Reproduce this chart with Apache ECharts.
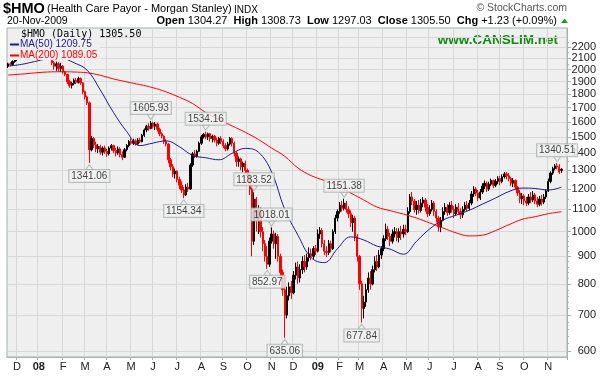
<!DOCTYPE html>
<html lang="en">
<head>
<meta charset="UTF-8">
<title>$HMO daily</title>
<script src="https://cdn.jsdelivr.net/npm/echarts@6/dist/echarts.min.js"></script>
<style>html,body{margin:0;padding:0;background:#fff}</style>
</head>
<body>
<div id="main" style="width:605px;height:378px"></div>
<script>
// two-session bars, [open, close, low, high]
var bars = [
  [2030,2050,2015,2060],[2050,2045,2030,2065],[2045,2070,2035,2080],[2070,2090,2060,2100],[2090,2110,2075,2125],
  [2110,2140,2100,2150],[2140,2125,2110,2160],[2125,2170,2115,2180],[2170,2190,2155,2205],[2190,2160,2145,2210],
  [2160,2200,2150,2215],[2200,2230,2185,2245],[2230,2210,2195,2250],[2210,2180,2165,2225],[2180,2150,2130,2195],
  [2150,2120,2100,2170],[2120,2160,2105,2175],[2160,2130,2110,2180],[2130,2100,2090,2150],[2100,2095,2088,2120],
  [2080,2060,2040,2084],[2060,2030,2000,2075],[2030,2050,1990,2070],[2050,2010,1985,2065],[2010,2030,1980,2060],
  [2030,1980,1965,2040],[1980,1960,1945,1990],[1960,1900,1880,1965],[1900,1870,1850,1915],[1870,1885,1845,1900],
  [1885,1910,1870,1925],[1910,1895,1880,1930],[1895,1925,1885,1940],[1925,1890,1875,1935],[1890,1820,1800,1895],
  [1820,1780,1760,1830],[1780,1735,1720,1790],[1735,1420,1341.06,1745],[1420,1490,1410,1505],[1490,1450,1430,1500],
  [1450,1425,1405,1470],[1425,1440,1400,1455],[1440,1405,1390,1450],[1405,1430,1385,1440],[1430,1410,1395,1445],
  [1410,1395,1378,1425],[1395,1430,1385,1440],[1430,1445,1415,1455],[1445,1415,1400,1450],[1415,1400,1380,1430],
  [1400,1425,1390,1440],[1425,1390,1375,1435],[1390,1375,1358,1410],[1375,1420,1370,1430],[1420,1445,1410,1455],
  [1445,1470,1435,1480],[1470,1460,1450,1490],[1460,1475,1448,1488],[1475,1455,1445,1485],[1455,1480,1450,1492],
  [1480,1470,1460,1495],[1470,1510,1465,1520],[1510,1545,1500,1555],[1545,1570,1530,1580],[1570,1555,1540,1590],
  [1555,1590,1550,1605.93],[1590,1570,1555,1600],[1570,1585,1545,1598],[1585,1550,1535,1595],[1550,1520,1505,1560],
  [1520,1505,1490,1530],[1505,1470,1455,1510],[1470,1455,1440,1485],[1455,1360,1340,1460],[1360,1320,1300,1370],
  [1320,1280,1262,1335],[1280,1295,1255,1310],[1295,1250,1235,1300],[1250,1220,1200,1265],[1220,1195,1180,1240],
  [1195,1170,1154.34,1210],[1170,1210,1165,1225],[1210,1200,1185,1232],[1200,1330,1195,1340],[1330,1395,1320,1405],
  [1395,1380,1370,1418],[1380,1410,1372,1420],[1410,1460,1405,1470],[1460,1500,1450,1512],[1500,1515,1490,1525],
  [1515,1500,1485,1534.16],[1500,1520,1480,1528],[1520,1490,1470,1525],[1490,1505,1465,1515],[1505,1480,1465,1512],
  [1480,1460,1440,1495],[1460,1490,1450,1500],[1490,1470,1455,1505],[1470,1445,1430,1485],[1445,1425,1410,1460],
  [1425,1455,1415,1468],[1455,1490,1445,1500],[1490,1460,1440,1498],[1460,1400,1380,1470],[1400,1350,1320,1410],
  [1350,1365,1320,1380],[1365,1320,1300,1372],[1320,1340,1290,1350],[1340,1300,1280,1355],[1300,1270,1250,1310],
  [1270,1200,1170,1283],[1200,960,900,1210],[960,1150,945,1183.52],[1150,1050,1000,1160],[1050,1100,990,1120],
  [1100,1000,975,1110],[1000,950,920,1020],[950,900,880,965],[900,870,852.97,940],[870,960,860,975],
  [960,990,950,1018.01],[990,950,930,1005],[950,980,890,995],[980,900,880,990],[900,840,825,910],
  [840,780,760,850],[780,700,635.06,790],[700,760,690,790],[760,790,745,805],[790,770,750,810],
  [770,830,765,845],[830,860,815,876],[860,820,800,880],[820,850,805,870],[850,880,835,900],
  [880,860,840,905],[860,895,850,910],[895,910,880,935],[910,900,885,930],[900,930,890,940],
  [930,920,905,945],[920,990,915,1010],[990,1005,970,1020],[1005,950,935,1015],[950,920,905,965],
  [920,915,897,940],[915,950,905,965],[950,930,915,962],[930,1000,925,1010],[1000,1060,990,1075],
  [1060,1090,1045,1100],[1090,1120,1080,1135],[1120,1105,1090,1140],[1105,1130,1095,1151.38],[1130,1100,1085,1140],
  [1100,1080,1060,1115],[1080,1040,1020,1095],[1040,1060,1000,1075],[1060,980,960,1070],[980,900,880,990],
  [900,800,780,905],[800,720,677.84,810],[720,740,690,760],[740,780,725,800],[780,820,770,840],
  [820,800,780,845],[800,850,795,865],[850,880,840,900],[880,860,845,905],[860,905,855,925],
  [905,930,890,940],[930,970,920,985],[970,1010,960,1035],[1010,980,965,1025],[980,960,940,995],
  [960,990,950,1010],[990,1000,975,1020],[1000,975,960,1015],[975,1000,955,1015],[1000,990,965,1025],
  [990,1010,975,1030],[1010,1000,985,1030],[1000,1090,995,1110],[1090,1160,1080,1175],[1160,1140,1120,1185],
  [1140,1100,1085,1150],[1100,1120,1075,1140],[1120,1095,1080,1145],[1095,1130,1085,1150],[1130,1145,1110,1160],
  [1145,1110,1090,1155],[1110,1080,1065,1125],[1080,1100,1070,1120],[1100,1130,1090,1145],[1130,1090,1070,1140],
  [1090,1060,1040,1100],[1060,1020,1000,1070],[1020,1050,998,1065],[1050,1090,1045,1110],[1090,1110,1075,1130],
  [1110,1085,1070,1125],[1085,1120,1075,1135],[1120,1100,1085,1140],[1100,1080,1060,1115],[1080,1110,1070,1125],
  [1110,1090,1075,1130],[1090,1075,1055,1105],[1075,1100,1060,1115],[1100,1120,1090,1135],[1120,1105,1090,1140],
  [1105,1130,1095,1145],[1130,1175,1120,1190],[1175,1200,1160,1215],[1200,1180,1165,1210],[1180,1155,1140,1195],
  [1155,1185,1145,1200],[1185,1215,1175,1230],[1215,1230,1200,1245],[1230,1200,1185,1240],[1200,1225,1190,1238],
  [1225,1245,1215,1255],[1245,1220,1205,1250],[1220,1240,1210,1252],[1240,1255,1225,1268],[1255,1240,1220,1270],
  [1240,1265,1230,1278],[1265,1280,1255,1290],[1280,1270,1250,1292],[1270,1255,1240,1285],[1255,1230,1215,1265],
  [1230,1245,1210,1258],[1245,1210,1195,1250],[1210,1180,1165,1215],[1180,1150,1130,1195],[1150,1165,1125,1180],
  [1165,1140,1120,1175],[1140,1130,1115,1160],[1130,1160,1120,1175],[1160,1145,1130,1185],[1145,1170,1135,1190],
  [1170,1140,1125,1180],[1140,1125,1110,1160],[1125,1150,1115,1165],[1150,1135,1118,1170],[1135,1160,1125,1175],
  [1160,1190,1150,1200],[1190,1240,1185,1255],[1240,1285,1230,1295],[1285,1310,1275,1320],[1310,1325,1300,1335],
  [1325,1320,1305,1340.51],[1320,1290,1280,1335],[1300,1305.5,1285,1312]
];

// moving averages, one reading every 6 bars
var maStep = 6;
var ma50 = [2030,2045,2070,2095,2100,2060,1995,1833,1665,1535,1445,1461,1475,1438,1386,1372,1360,1398,1428,1405,
  1290,1100,985,895,876,930,978,965,940,928,908,960,1012,1051,1073,1096,1125,1155,1187,1205,1203,1195,1209.75];
var ma200 = [1955,1962,1972,1980,1982,1980,1973,1952,1922,1898,1876,1851,1818,1777,1730,1665,1615,1572,1530,1483,
  1430,1380,1313,1271,1245,1218,1180,1145,1111,1094,1078,1060,1038,1016,995,982,985,1005,1030,1054,1066,1080,1089.05];

// labelled swing points: [bar index, price]
var highMarks = [[65,1605.93],[90,1534.16],[112,1183.52],[120,1018.01],[153,1151.38],[250,1340.51]];
var lowMarks = [[37,1341.06],[80,1154.34],[118,852.97],[126,635.06],[161,677.84]];

var priceTicks = [600,700,800,900,1000,1100,1200,1300,1400,1500,1600,1700,1800,1900,2000,2100,2200,2300];
var minorTicks = [620,640,660,680,720,740,760,780,820,840,860,880,920,940,960,980,
  1050,1150,1250,1350,1450,1550,1650,1750,1850,1950,2050,2150,2250];
var monthLetters = ['J','F','M','A','M','J','J','A','S','O','N','D'];
var holidays = ['2007-11-22','2007-12-25','2008-01-01','2008-01-21','2008-02-18','2008-03-21','2008-05-26',
  '2008-07-04','2008-09-01','2008-11-27','2008-12-25','2009-01-01','2009-01-19','2009-02-16','2009-04-10',
  '2009-05-25','2009-07-03','2009-09-07','2009-11-26'];
var quote = {date: '20-Nov-2009', open: '1304.27', high: '1308.73', low: '1297.03', close: '1305.50', chg: '+1.23 (+0.09%)'};

function tradingDays(from, to) {
  var out = [];
  var d = new Date(from + 'T00:00:00Z');
  var end = new Date(to + 'T00:00:00Z');
  while (d <= end) {
    var wd = d.getUTCDay();
    var s = d.toISOString().slice(0, 10);
    if (wd !== 0 && wd !== 6 && holidays.indexOf(s) < 0) out.push(s);
    d.setUTCDate(d.getUTCDate() + 1);
  }
  return out;
}

var days = tradingDays('2007-10-01', '2009-11-20');
// each bar spans two sessions, counted back from the last one
var dates = bars.map(function (b, k) { return days[days.length - 2 * (bars.length - k)]; });
var cats = dates.concat(['', '']);  // a little room after the last bar

function monthStart(i) {
  if (i <= 0 || i >= dates.length) return false;
  return dates[i].slice(5, 7) !== dates[i - 1].slice(5, 7);
}

var border = '#a3b3ad';
var grid = '#d7d7d7';
var plotBg = '#efefef';
var fontS = '"Liberation Sans", Arial, sans-serif';

var calloutLabel = {
  show: true,
  distance: 0,
  formatter: function (p) { return p.value[1].toFixed(2); },
  fontFamily: fontS,
  fontSize: 10,
  color: '#111',
  backgroundColor: '#f1f1f1',
  borderColor: '#a5b0ad',
  borderWidth: 1,
  padding: [1, 2, 0, 2],
  lineHeight: 11
};

var mychart = echarts.init(document.getElementById('main'));

var option = {
  animation: false,
  backgroundColor: '#fff',
  grid: {left: 7, top: 28, width: 560, height: 329, show: true, backgroundColor: plotBg, borderColor: border, borderWidth: 1},
  xAxis: {
    type: 'category',
    data: cats,
    boundaryGap: true,
    axisLine: {show: true, lineStyle: {color: border}},
    axisTick: {show: true, interval: monthStart, length: 3, lineStyle: {color: border}},
    splitLine: {show: true, interval: monthStart, lineStyle: {color: grid}},
    axisLabel: {
      interval: monthStart,
      margin: 4,
      fontFamily: fontS,
      fontSize: 11,
      color: '#222',
      formatter: function (v) {
        var m = +v.slice(5, 7);
        return m === 1 ? '{y|' + v.slice(2, 4) + '}' : monthLetters[m - 1];
      },
      rich: {y: {fontWeight: 'bold', fontSize: 11, fontFamily: fontS, color: '#222'}}
    }
  },
  yAxis: [
    {
      type: 'log',
      position: 'right',
      min: 585,
      max: 2390,
      axisLine: {show: true, lineStyle: {color: border}},
      axisTick: {show: true, length: 4, customValues: priceTicks, lineStyle: {color: border}},
      axisLabel: {
        customValues: priceTicks,
        align: 'right',
        margin: 29,
        fontFamily: fontS,
        fontSize: 11,
        color: '#222',
        formatter: function (v) { return String(Math.round(v)); }
      },
      splitLine: {show: true, lineStyle: {color: grid}}
    },
    {
      // small in-between ticks only
      type: 'log',
      position: 'right',
      min: 585,
      max: 2390,
      axisLine: {show: false},
      axisTick: {show: true, length: 2, customValues: minorTicks, lineStyle: {color: border}},
      axisLabel: {show: false},
      splitLine: {show: false}
    }
  ],
  series: [
    {
      type: 'candlestick',
      data: bars,
      barWidth: 1.8,
      silent: true,
      itemStyle: {color: '#000', color0: '#ff0000', borderColor: '#000', borderColor0: '#ff0000', borderWidth: 1}
    },
    {
      type: 'line',
      data: ma200.map(function (v, k) { return [k * maStep, v]; }),
      smooth: 0.4,
      showSymbol: false,
      silent: true,
      lineStyle: {color: '#ff0000', width: 1}
    },
    {
      type: 'line',
      data: ma50.map(function (v, k) { return [k * maStep, v]; }),
      smooth: 0.4,
      showSymbol: false,
      silent: true,
      lineStyle: {color: '#1c1c8c', width: 1}
    },
    {
      type: 'scatter',
      silent: true,
      z: 6,
      data: highMarks,
      symbol: 'triangle',
      symbolSize: [7, 5],
      symbolRotate: 180,
      symbolOffset: [0, -4],
      itemStyle: {color: '#f1f1f1', borderColor: '#a5b0ad', borderWidth: 1},
      label: Object.assign({position: 'top'}, calloutLabel)
    },
    {
      type: 'scatter',
      silent: true,
      z: 6,
      data: lowMarks,
      symbol: 'triangle',
      symbolSize: [7, 5],
      symbolOffset: [0, 4],
      itemStyle: {color: '#f1f1f1', borderColor: '#a5b0ad', borderWidth: 1},
      label: Object.assign({position: 'bottom'}, calloutLabel)
    }
  ],
  graphic: [
    {type: 'text', left: 3, top: 1, style: {text: '$HMO', font: 'bold 14.5px ' + fontS, fill: '#000'}},
    {type: 'text', left: 47, top: 3, style: {text: '(Health Care Payor - Morgan Stanley)', font: '11px ' + fontS, fill: '#000'}},
    {type: 'text', left: 234, top: 5, style: {text: 'INDX', font: '10px ' + fontS, fill: '#000'}},
    {type: 'text', right: 38, top: 3, style: {text: '\u00a9 StockCharts.com', font: '10.5px ' + fontS, fill: '#555'}},
    {type: 'text', left: 7, top: 16, style: {text: quote.date, font: '10.5px ' + fontS, fill: '#000'}},
    {
      type: 'text', right: 48, top: 15,
      style: {
        text: '{b|Open} ' + quote.open + '  {b|High} ' + quote.high + '  {b|Low} ' + quote.low +
              '  {b|Close} ' + quote.close + '  {b|Chg} ' + quote.chg,
        font: '11px ' + fontS, fill: '#000',
        rich: {b: {fontWeight: 'bold', fontSize: 11, fontFamily: fontS, fill: '#000'}}
      }
    },
    {type: 'polygon', shape: {points: [[561, 23], [568, 23], [564.5, 18.5]]}, style: {fill: '#1aa31a'}},
    {type: 'text', right: 47, top: 33, style: {text: 'www.CANSLIM.net', font: 'bold 13.5px ' + fontS, fill: '#108a10'}},
    // legend panel hides whatever runs underneath it, as in the original
    {type: 'rect', z: 10, shape: {x: 8, y: 29, width: 92, height: 31}, style: {fill: plotBg}},
    {type: 'text', z: 11, left: 21, top: 29, style: {text: '$HMO (Daily) ' + bars[bars.length - 1][1].toFixed(2), font: '10px "DejaVu Sans Mono", monospace', fill: '#000'}},
    {type: 'line', z: 11, shape: {x1: 10, y1: 44.5, x2: 19, y2: 44.5}, style: {stroke: '#1c1c8c', lineWidth: 2}},
    {type: 'text', z: 11, left: 20, top: 39, style: {text: 'MA(50) ' + ma50[ma50.length - 1].toFixed(2), font: '10px ' + fontS, fill: '#1c1c8c'}},
    {type: 'line', z: 11, shape: {x1: 10, y1: 55.5, x2: 19, y2: 55.5}, style: {stroke: '#ff0000', lineWidth: 2}},
    {type: 'text', z: 11, left: 20, top: 50, style: {text: 'MA(200) ' + ma200[ma200.length - 1].toFixed(2), font: '10px ' + fontS, fill: '#ff0000'}}
  ]
};

mychart.setOption(option);
</script>
</body>
</html>
